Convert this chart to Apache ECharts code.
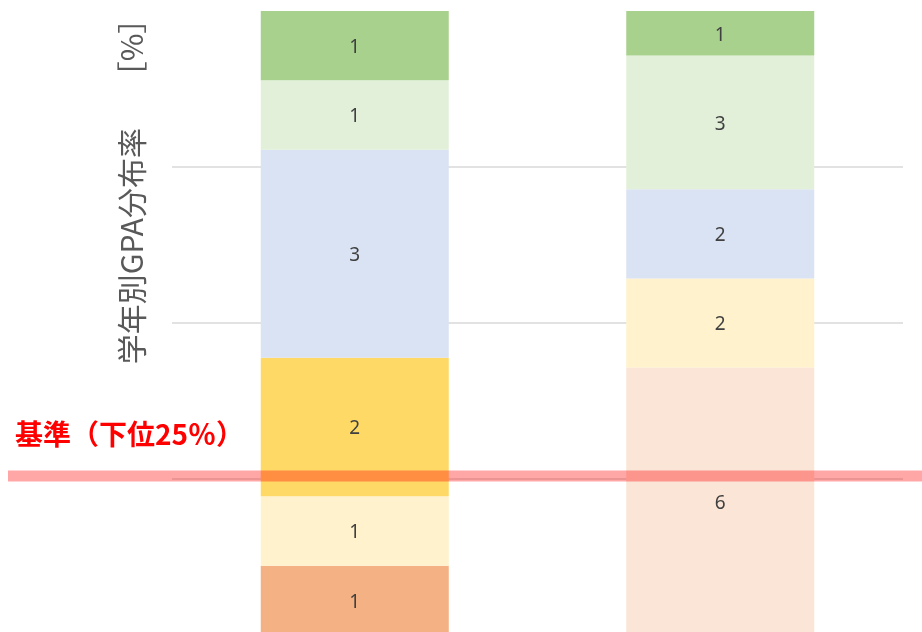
<!DOCTYPE html>
<html>
<head>
<meta charset="utf-8">
<script src="https://cdn.jsdelivr.net/npm/echarts@6/dist/echarts.min.js"></script>
<style>
  html, body { margin: 0; padding: 0; background: #fff; }
  #chart { width: 922px; height: 632px; }
</style>
</head>
<body>
<div id="chart"></div>
<script>
// 学年（カテゴリ）
const grades = ['1年', '2年']
// GPA区分ごとの人数（棒の下から順）
const band1 = [1, 6]
const band2 = [1, 2]
const band3 = [2, 0]
const band4 = [3, 2]
const band5 = [1, 3]
const band6 = [1, 1]
// 目盛り [%]
const yTicks = [0, 25, 50, 75, 100]
// 基準線の位置 [%]
const criterion = 25.5
const criterionLabel = '基準（下位25％）'
const yTitle = '学年別GPA分布率　 ［%］'

const bands = [band1, band2, band3, band4, band5, band6]
const bandColors = [
  ['#F4B183', '#FBE5D6'],
  ['#FFF2CC', '#FFF2CC'],
  ['#FFD966', '#FFD966'],
  ['#DAE3F3', '#DAE3F3'],
  ['#E2F0D9', '#E2F0D9'],
  ['#A9D18E', '#A9D18E'],
]

// 学年ごとの合計（100%積み上げ用）
const totals = grades.map((g, i) => bands.reduce((s, b) => s + b[i], 0))

const chart = echarts.init(document.getElementById('chart'))

const series = bands.map((counts, k) => ({
  name: '区分' + (k + 1),
  type: 'bar',
  stack: 'total',
  barWidth: 188,
  data: counts.map((c, i) => ({
    value: (c / totals[i]) * 100,
    itemStyle: { color: bandColors[k][i] },
  })),
  label: {
    show: true,
    position: 'inside',
    offset: [0, 2],
    color: '#404040',
    fontSize: 19,
    fontFamily: 'Noto Sans',
    formatter: (p) => (counts[p.dataIndex] ? String(counts[p.dataIndex]) : ''),
  },
  emphasis: { disabled: true },
}))

const option = {
  animation: false,
  grid: { left: 172, right: 19, top: 11, bottom: -3, outerBoundsMode: 'none' },
  xAxis: {
    type: 'category',
    data: grades,
    axisLine: { show: false },
    axisTick: { show: false },
    axisLabel: { show: false },
  },
  yAxis: {
    type: 'value',
    min: yTicks[0],
    max: yTicks[yTicks.length - 1],
    interval: yTicks[1] - yTicks[0],
    axisLabel: { show: false },
    axisLine: { show: false },
    axisTick: { show: false },
    splitLine: {
      showMaxLine: false,
      lineStyle: { color: '#D9D9D9', width: 1.5 },
    },
  },
  series,
}

chart.setOption(option)

// 基準線は軸の値から位置を求めて描く
const yLine = chart.convertToPixel({ yAxisIndex: 0 }, criterion)

chart.setOption({
  graphic: [
    {
      type: 'text',
      x: 132,
      y: 184,
      rotation: Math.PI / 2,
      style: {
        text: yTitle,
        fill: '#595959',
        fontSize: 30,
        fontFamily: 'Noto Sans CJK JP',
        align: 'center',
        verticalAlign: 'middle',
      },
    },
    {
      type: 'line',
      z: 100,
      shape: { x1: 8, y1: yLine, x2: 922, y2: yLine },
      style: { stroke: 'rgba(255,0,0,0.35)', lineWidth: 11 },
    },
    {
      type: 'text',
      z: 100,
      x: 15,
      y: yLine - 42,
      style: {
        text: criterionLabel,
        fill: '#FF0000',
        fontSize: 28,
        fontWeight: 'bold',
        fontFamily: 'Noto Sans CJK JP',
        verticalAlign: 'middle',
      },
    },
  ],
})
</script>
</body>
</html>
